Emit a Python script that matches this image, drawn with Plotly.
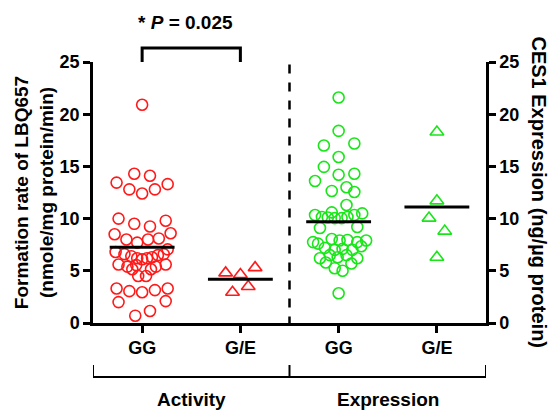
import plotly.graph_objects as go

# ---- data ----
categories = ["GG", "G/E", "GG", "G/E"]
group_labels = ["Activity", "Expression"]

activity_gg = [20.9, 13.45, 14.3, 14.1, 12.8, 12.4, 12.8, 13.3, 10.0, 9.5, 9.25, 9.8,
               8.5, 8.0, 7.7, 8.0, 8.1, 8.6, 7.05, 6.8, 6.6, 6.4, 6.2, 6.1, 6.2, 6.3,
               6.5, 6.6, 5.6, 5.4, 5.15, 5.55, 5.15, 5.4, 5.6, 4.5, 4.5, 3.3, 3.05,
               2.95, 3.15, 3.3, 2.0, 2.1, 1.15, 0.7]
activity_gg_jitter = [0, -0.26, -0.08, 0.08, -0.13, 0, 0.13, 0.26, -0.24, -0.08, 0.08, 0.24,
                      -0.28, -0.16, -0.05, 0.06, 0.17, 0.29, 0.26, -0.27, -0.18, -0.11, -0.05,
                      0, 0.05, 0.10, 0.16, 0.22, -0.24, -0.15, -0.10, -0.06, 0.09, 0.14, 0.24,
                      -0.04, 0.04, -0.26, -0.13, 0, 0.13, 0.26, -0.24, 0.24, 0.08, -0.07]

activity_ge = [4.8, 4.65, 5.3, 3.5, 2.95]
activity_ge_jitter = [-0.15, 0, 0.15, 0.08, -0.08]

expression_gg = [21.6, 18.4, 17.0, 17.2, 15.9, 14.95, 14.2, 14.3, 13.6, 12.65, 13.0, 12.55,
                 11.3, 10.6, 10.35, 10.15, 10.1, 10.05, 10.05, 10.15, 10.35, 10.5, 9.1, 9.2,
                 7.75, 7.6, 8.05, 7.9, 7.95, 7.75, 7.9, 7.2, 7.0, 7.1, 7.0, 7.35, 6.5, 6.3,
                 6.5, 6.2, 6.2, 5.8, 5.7, 5.25, 5.0, 2.85]
expression_gg_jitter = [0, 0, -0.15, 0.16, 0, -0.15, 0, 0.16, -0.24, -0.07, 0.08, 0.16,
                        0.08, -0.07, -0.24, -0.17, -0.11, -0.04, 0.03, 0.09, 0.16, 0.24, -0.19,
                        0.19, -0.26, -0.21, -0.07, 0.01, 0.09, 0.19, 0.28, -0.14, -0.04, 0.04,
                        0.14, 0.23, -0.09, -0.01, 0.08, -0.19, 0.19, -0.13, 0.13, -0.04, 0.04, 0]

expression_ge = [18.3, 11.7, 10.05, 8.8, 6.3]
expression_ge_jitter = [0, 0, -0.08, 0.08, 0]

means = [7.25, 4.2, 9.7, 11.1]
yticks = [0, 5, 10, 15, 20, 25]
p_text = "* <i>P</i> = 0.025"

RED = "#ff1a1a"
GREEN = "#19e619"
FONT = "Liberation Sans, Arial, sans-serif"

fig = go.Figure()

def pts(vals, jit, pos, sym, color, axis, size):
    fig.add_trace(go.Scatter(
        x=[pos + j for j in jit], y=vals, mode="markers", yaxis=axis,
        marker=dict(symbol=sym, size=size, color=color, line=dict(width=1.6, color=color)),
        cliponaxis=False, showlegend=False, hoverinfo="y"))

pts(activity_gg, activity_gg_jitter, 1, "circle-open", RED, "y", 11)
pts(activity_ge, activity_ge_jitter, 2, "triangle-up-open", RED, "y", 12)
pts(expression_gg, expression_gg_jitter, 3, "circle-open", GREEN, "y2", 11)
pts(expression_ge, expression_ge_jitter, 4, "triangle-up-open", GREEN, "y2", 12)

for i, m in enumerate(means):
    c = i + 1
    fig.add_trace(go.Scatter(x=[c - 0.33, c + 0.33], y=[m, m], mode="lines",
                             yaxis="y" if i < 2 else "y2",
                             line=dict(color="black", width=3), showlegend=False,
                             hoverinfo="skip"))

axis_common = dict(showline=True, linecolor="black", linewidth=2.5, ticks="outside",
                   tickwidth=2.5, ticklen=7, tickcolor="black", showgrid=False,
                   zeroline=False,
                   tickfont=dict(family=FONT, size=18, color="black", weight="bold"))

fig.update_layout(
    width=548, height=405, margin=dict(l=85, r=70, t=54, b=90),
    plot_bgcolor="white", paper_bgcolor="white",
    xaxis=dict(range=[0.5, 4.5], tickvals=[1, 2, 3, 4], ticktext=categories, **axis_common),
    yaxis=dict(range=[0, 25], tickvals=yticks, **axis_common),
    yaxis2=dict(range=[0, 25], tickvals=yticks, overlaying="y", side="right",
                anchor="x", **axis_common),
)

# dashed separator
fig.add_shape(type="line", x0=2.5, x1=2.5, xref="x", y0=-0.01, y1=1.0, yref="paper",
              line=dict(color="black", width=2.5, dash="dash"))

# group brackets below
yb, yt = -0.207, -0.161
for x0 in [0.5, 2.5, 4.5]:
    fig.add_shape(type="line", x0=x0, x1=x0, xref="x", y0=yb, y1=yt, yref="paper",
                  line=dict(color="black", width=2))
fig.add_shape(type="line", x0=0.5, x1=4.5, xref="x", y0=yb, y1=yb, yref="paper",
              line=dict(color="black", width=2))
for i, g in enumerate(group_labels):
    fig.add_annotation(x=1.5 + 2 * i, y=-0.295, xref="x", yref="paper", text=g,
                       showarrow=False, xanchor="center", yanchor="middle",
                       font=dict(family=FONT, size=19, color="black", weight="bold"))

# significance bracket
fig.add_shape(type="path", xref="x", yref="paper",
              path="M 1,1.0 L 1,1.054 L 2,1.054 L 2,1.0",
              line=dict(color="black", width=3))
fig.add_annotation(x=1.44, y=1.15, xref="x", yref="paper", text=p_text, showarrow=False,
                   xanchor="center", yanchor="middle",
                   font=dict(family=FONT, size=19, color="black", weight="bold"))

# axis titles
fig.add_annotation(x=-0.151, y=0.50, xref="paper", yref="paper", textangle=-90,
                   xanchor="center", yanchor="middle",
                   text="Formation rate of LBQ657<br>(nmole/mg protein/min)", showarrow=False,
                   font=dict(family=FONT, size=19, color="black", weight="bold"))
fig.add_annotation(x=1.135, y=0.50, xref="paper", yref="paper", textangle=90,
                   xanchor="center", yanchor="middle",
                   text="CES1 Expression (ng/µg protein)", showarrow=False,
                   font=dict(family=FONT, size=20, color="black", weight="bold"))

fig.write_html("out.html")
